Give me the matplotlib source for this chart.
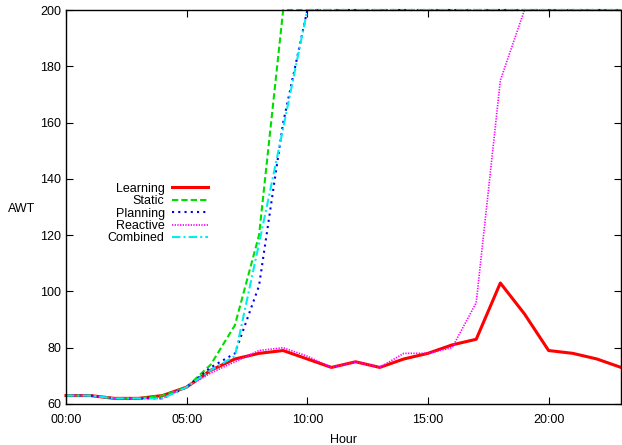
import numpy as np
import matplotlib
matplotlib.use('Agg')
import matplotlib.pyplot as plt

plt.rcParams['font.family'] = ['Liberation Sans', 'DejaVu Sans']

# hour of day
hours = list(range(24))
tick_labels = ['00:00', '05:00', '10:00', '15:00', '20:00']

# average waiting time per strategy
learning = [63, 63, 62, 62, 63, 66, 72, 76, 78, 79, 76, 73, 75, 73, 76, 78, 81, 83, 103, 92, 79, 78, 76, 73]
static = [63, 63, 62, 62, 63, 66, 74, 88, 120, 200, 200, 200, 200, 200, 200, 200, 200, 200, 200, 200, 200, 200, 200, 200]
planning = [63, 63, 62, 62, 62, 66, 73, 78, 102, 160, 200, 200, 200, 200, 200, 200, 200, 200, 200, 200, 200, 200, 200, 200]
reactive = [63, 63, 62, 62, 62, 66, 71, 75, 79, 80, 77, 73, 75, 73, 78, 78, 80, 96, 175, 200, 200, 200, 200, 200]
combined = [63, 63, 62, 62, 62, 66, 72, 77, 117, 158, 200, 200, 200, 200, 200, 200, 200, 200, 200, 200, 200, 200, 200, 200]

fig = plt.figure(figsize=(6.22, 4.45), dpi=100)
ax = fig.add_axes([66/622, 41/445, 555/622, 394/445])

ax.plot(hours, learning, color='#ff0000', lw=2.2, label='Learning', clip_on=False)
ax.plot(hours, static, color='#00dd00', lw=1.5, dashes=(3, 1.5), label='Static', clip_on=False)
ax.plot(hours, planning, color='#0000ee', lw=1.5, dashes=(1, 2), label='Planning', clip_on=False)
ax.plot(hours, reactive, color='#ff00ff', lw=1.2, dashes=(0.8, 0.8), label='Reactive', clip_on=False)
ax.plot(hours, combined, color='#00eeee', lw=1.5, dashes=(4, 1.5, 1, 1.5), label='Combined', clip_on=False)

ax.set_xlim(0, 23)
ax.set_ylim(60, 200)
ax.set_xticks([0, 5, 10, 15, 20])
ax.set_xticklabels(tick_labels)
ax.set_yticks(np.arange(60, 201, 20))
ax.tick_params(direction='in', top=True, right=True, labelsize=9, length=5, width=0.8)
ax.tick_params(axis='x', pad=7)
for s in ax.spines.values():
    s.set_linewidth(1.0)

ax.set_xlabel('Hour', fontsize=9, labelpad=6)
ax.set_ylabel('AWT', fontsize=9, rotation=0)
ax.yaxis.set_label_coords(-0.08, 0.48)

ax.legend(loc='upper left', bbox_to_anchor=(0.055, 0.59), frameon=False, markerfirst=False,
          fontsize=9, handlelength=2.9, labelspacing=0.03, handletextpad=0.6)

fig.savefig('out.png', dpi=100)
